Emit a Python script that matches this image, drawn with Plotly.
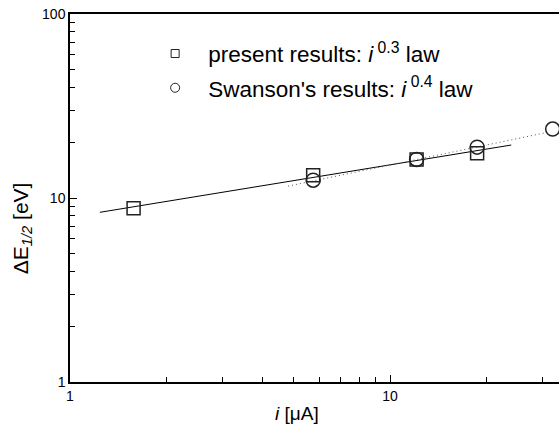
import plotly.graph_objects as go
import numpy as np

# data
present_x = [1.58, 5.75, 12.1, 18.7]
present_y = [8.8, 13.3, 16.2, 17.5]
swanson_x = [5.75, 12.1, 18.7, 32.2]
swanson_y = [12.5, 16.2, 18.9, 23.7]
fit03_x = [1.24, 23.9]
fit03_y = [8.36, 19.4]
fit04_x = [4.8, 30.5]
fit04_y = [11.6, 22.6]

FONT = "Arial, Liberation Sans"

fig = go.Figure()
fig.add_trace(go.Scatter(x=fit03_x, y=fit03_y, mode="lines",
                         line=dict(color="black", width=1), showlegend=False))
fig.add_trace(go.Scatter(x=fit04_x, y=fit04_y, mode="lines",
                         line=dict(color="#555", width=1, dash="1px,3px"), showlegend=False))
fig.add_trace(go.Scatter(x=present_x, y=present_y, mode="markers", showlegend=False,
                         marker=dict(symbol="square-open", size=13, color="#222",
                                     line=dict(width=1.5)), cliponaxis=False))
fig.add_trace(go.Scatter(x=swanson_x, y=swanson_y, mode="markers", showlegend=False,
                         marker=dict(symbol="circle-open", size=14, color="#222",
                                     line=dict(width=1.5)), cliponaxis=False))
# legend entries
fig.add_trace(go.Scatter(x=[None], y=[None], mode="markers", legendgroup="a",
                         name="present results: <i>i</i><sup> 0.3</sup> law",
                         marker=dict(symbol="square-open", size=8, color="#222",
                                     line=dict(width=1))))
fig.add_trace(go.Scatter(x=[None], y=[None], mode="markers", legendgroup="b",
                         name="Swanson's results: <i>i</i><sup> 0.4</sup> law",
                         marker=dict(symbol="circle-open", size=9, color="#222",
                                     line=dict(width=1))))

axis_common = dict(type="log", showgrid=False, zeroline=False, showline=True,
                   linecolor="black", linewidth=1.5, ticks="inside", ticklen=7,
                   tickwidth=1, tickcolor="black", dtick=1,
                   tickfont=dict(family=FONT, size=14, color="black"),
                   minor=dict(ticks="inside", ticklen=5, tickwidth=1, tickcolor="black",
                              dtick="D1", showgrid=False))

fig.update_xaxes(**axis_common, range=[0, np.log10(33.7)], mirror=True)
fig.update_yaxes(**axis_common, range=[0, 2])

fig.add_annotation(text="<i>i</i> [μA]", xref="paper", yref="paper",
                   x=0.464, y=-0.086, xanchor="center", yanchor="middle",
                   showarrow=False, font=dict(family=FONT, size=19, color="black"))
fig.add_annotation(text="ΔE<sub><i>1/2</i></sub> [eV]", xref="paper", yref="paper",
                   x=-0.098, y=0.418, xanchor="center", yanchor="middle", textangle=-90,
                   showarrow=False, font=dict(family=FONT, size=21, color="black"))

fig.update_layout(
    width=559, height=426,
    margin=dict(l=70, r=0, t=14, b=44),
    plot_bgcolor="white", paper_bgcolor="white",
    legend=dict(x=0.1475, y=0.95, xanchor="left", yanchor="top",
                font=dict(family=FONT, size=22.5, color="black"),
                bgcolor="rgba(0,0,0,0)", itemwidth=56, tracegroupgap=2),
)

fig.write_html("out.html")
